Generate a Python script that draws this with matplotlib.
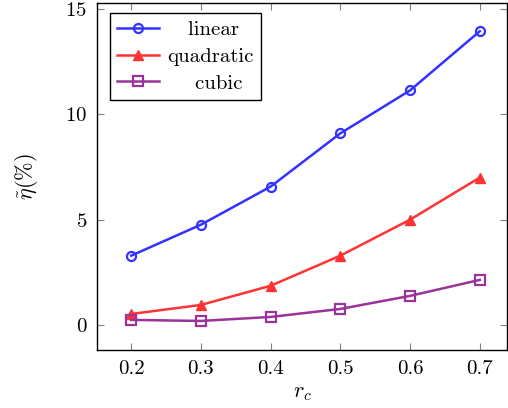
import matplotlib
matplotlib.use("Agg")
import matplotlib.pyplot as plt

plt.rcParams['font.family'] = ['cmr10', 'DejaVu Serif']
plt.rcParams['mathtext.fontset'] = 'cm'
plt.rcParams['axes.formatter.use_mathtext'] = True

r_c = [0.2, 0.3, 0.4, 0.5, 0.6, 0.7]
linear = [3.29, 4.76, 6.57, 9.10, 11.14, 13.95]
quadratic = [0.52, 0.95, 1.86, 3.29, 5.00, 7.00]
cubic = [0.24, 0.19, 0.38, 0.76, 1.38, 2.14]

fig = plt.figure(figsize=(5.08, 4.08), dpi=100)
ax = fig.add_axes([97 / 508, 58 / 408, 410 / 508, 347 / 408])

ax.plot(r_c, linear, color='#3333ff', marker='o', markersize=6.5, markerfacecolor='none',
        markeredgewidth=1.6, linewidth=1.8, label='   linear')
ax.plot(r_c, quadratic, color='#ff3333', marker='^', markersize=7,
        linewidth=1.8, label='quadratic')
ax.plot(r_c, cubic, color='#993399', marker='s', markersize=6.5, markerfacecolor='none',
        markeredgewidth=1.6, linewidth=1.8, label='    cubic')

ax.set_xlim(0.151, 0.739)
ax.set_ylim(-1.19, 15.29)
ax.set_xticks(r_c)
ax.set_xticklabels(['0.2', '0.3', '0.4', '0.5', '0.6', '0.7'])
ax.set_yticks([0, 5, 10, 15])
ax.tick_params(direction='in', length=5, color='#808080', labelsize=15,
               top=True, right=True, pad=7)
for s in ax.spines.values():
    s.set_linewidth(1.0)

ax.set_xlabel(r'$r_c$', fontsize=16, labelpad=4)
ax.set_ylabel(r'$\tilde{\eta}(\%)$', fontsize=16, labelpad=18)

leg = ax.legend(loc='upper left', fontsize=15, fancybox=False, edgecolor='black',
                framealpha=1, handlelength=2.0, borderpad=0.35, labelspacing=0.4,
                handletextpad=0.4, borderaxespad=0, bbox_to_anchor=(13 / 410, 1 - 10 / 347))
leg.get_frame().set_linewidth(1.0)

fig.savefig('out.png', dpi=100)
